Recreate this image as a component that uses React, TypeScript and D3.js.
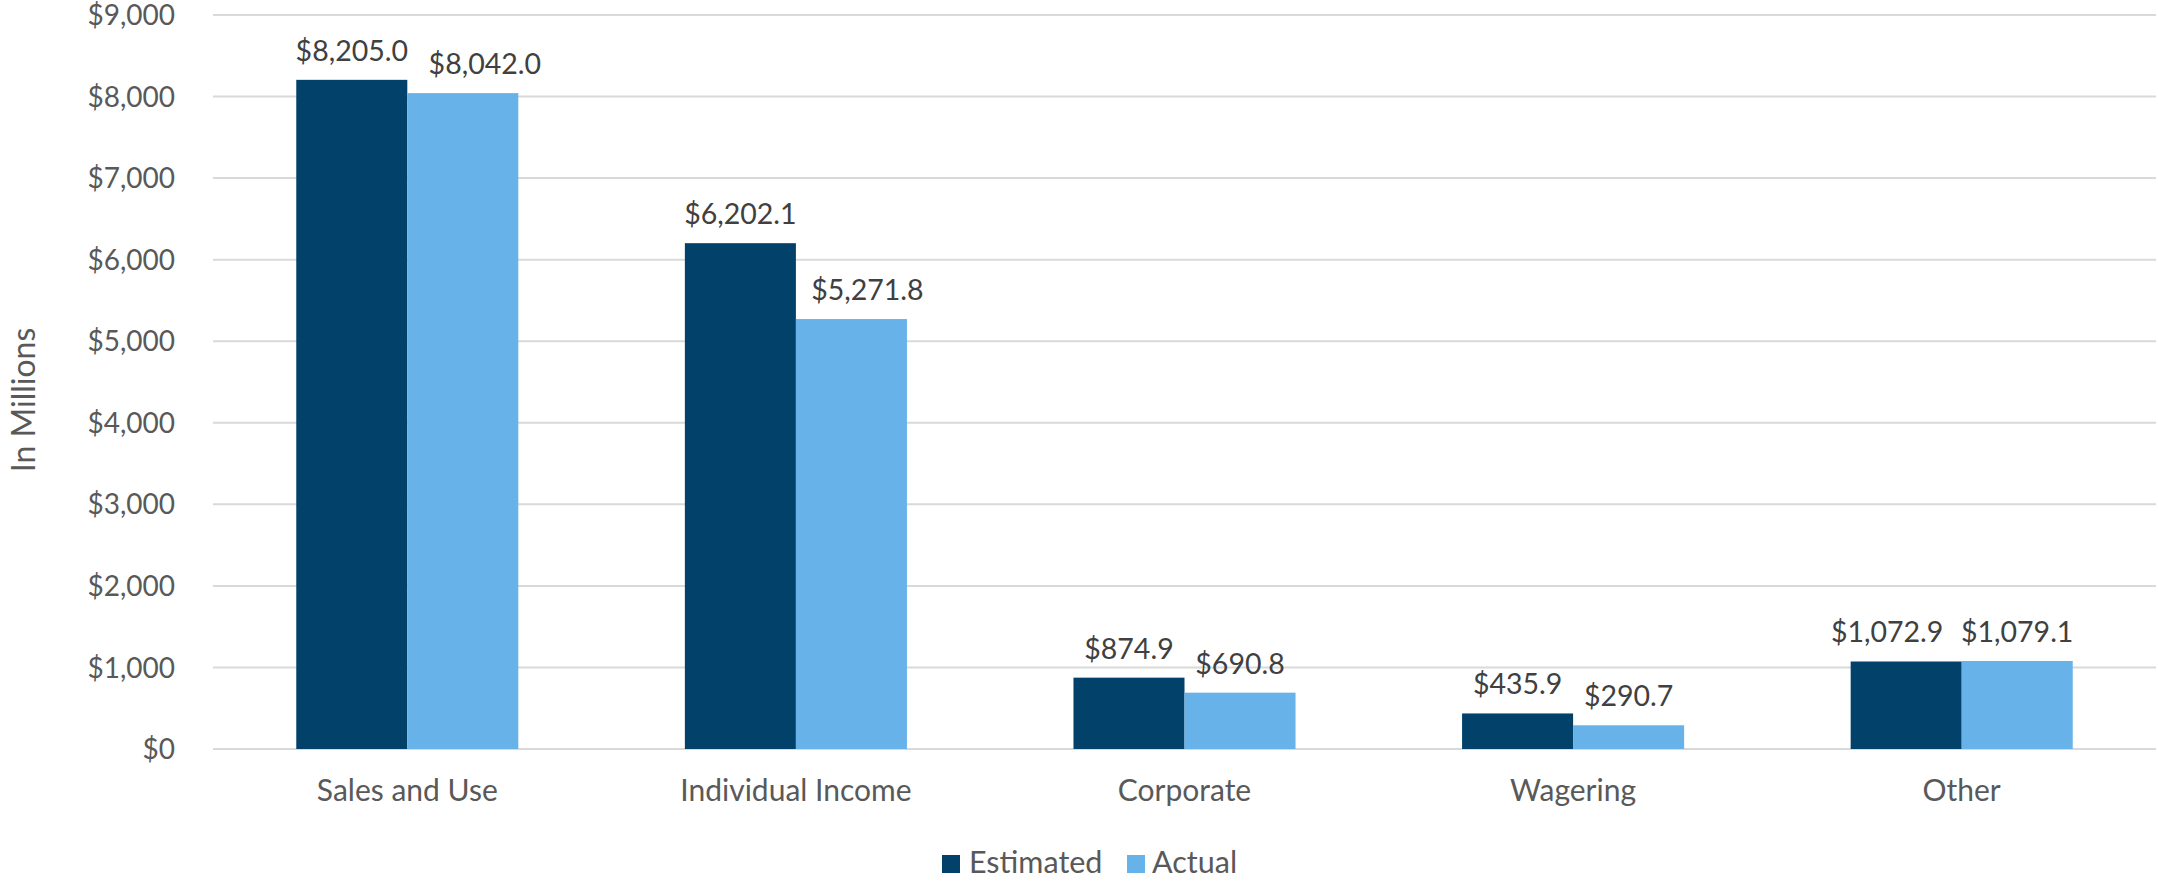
import React from "react";
import * as d3 from "d3";

const categories = ["Sales and Use", "Individual Income", "Corporate", "Wagering", "Other"];
const seriesNames = ["Estimated", "Actual"];
const estimated = [8205.0, 6202.1, 874.9, 435.9, 1072.9];
const actual = [8042.0, 5271.8, 690.8, 290.7, 1079.1];
const yTicks = [0, 1000, 2000, 3000, 4000, 5000, 6000, 7000, 8000, 9000];
const colors = ["#02416A", "#67B2E8"];
// horizontal nudges of data labels as placed in the reference (pixels)
const labelNudgeEstimated = [0, 0, 0, 0, -19];
const labelNudgeActual = [22, 16, 0, 0, 0];

const W = 2158;
const H = 882;
const FONT = "Lato, 'Open Sans', sans-serif";

export default function App() {
  const x0 = d3
    .scaleBand<string>()
    .domain(categories)
    .range([213, 2156])
    .paddingInner(1.5 / 3.5)
    .paddingOuter(0.75 / 3.5);
  const x1 = d3.scaleBand<string>().domain(seriesNames).range([0, x0.bandwidth()]).padding(0);
  const y = d3.scaleLinear().domain([0, 9000]).range([749, 15]);
  const fmtTick = d3.format("$,.0f");
  const fmtLabel = d3.format("$,.1f");
  const series = [estimated, actual];
  const nudges = [labelNudgeEstimated, labelNudgeActual];

  return (
    <svg
      width={W}
      height={H}
      style={{ position: "absolute", left: 0, top: 0, display: "block", background: "#fff" }}
      fontFamily={FONT}
    >
      {yTicks.map((t) => (
        <g key={t}>
          <line x1={213} x2={2156} y1={y(t)} y2={y(t)} stroke="#D9D9D9" strokeWidth={2} />
          <text x={175} y={y(t)} dy="0.36em" textAnchor="end" fontSize={28} fill="#595959">
            {fmtTick(t)}
          </text>
        </g>
      ))}
      <text
        transform={`translate(35,400) rotate(-90)`}
        textAnchor="middle"
        fontSize={32}
        fill="#595959"
      >
        In Millions
      </text>
      {categories.map((c, i) => (
        <g key={c} transform={`translate(${x0(c)},0)`}>
          {series.map((s, j) => {
            const xs = x1(seriesNames[j]) as number;
            const v = s[i];
            return (
              <g key={j}>
                <rect x={xs} y={y(v)} width={x1.bandwidth()} height={y(0) - y(v)} fill={colors[j]} />
                <text
                  x={xs + x1.bandwidth() / 2 + nudges[j][i]}
                  y={y(v) - 19}
                  textAnchor="middle"
                  fontSize={28.5}
                  fill="#404040"
                >
                  {fmtLabel(v)}
                </text>
              </g>
            );
          })}
          <text x={x0.bandwidth() / 2} y={801} textAnchor="middle" fontSize={30} fill="#595959">
            {c}
          </text>
        </g>
      ))}
      <g>
        <rect x={942} y={855} width={18} height={18} fill={colors[0]} />
        <text x={969} y={873} fontSize={30.5} fill="#595959">
          {seriesNames[0]}
        </text>
        <rect x={1127} y={855} width={18} height={18} fill={colors[1]} />
        <text x={1152} y={873} fontSize={30.5} fill="#595959">
          {seriesNames[1]}
        </text>
      </g>
    </svg>
  );
}
